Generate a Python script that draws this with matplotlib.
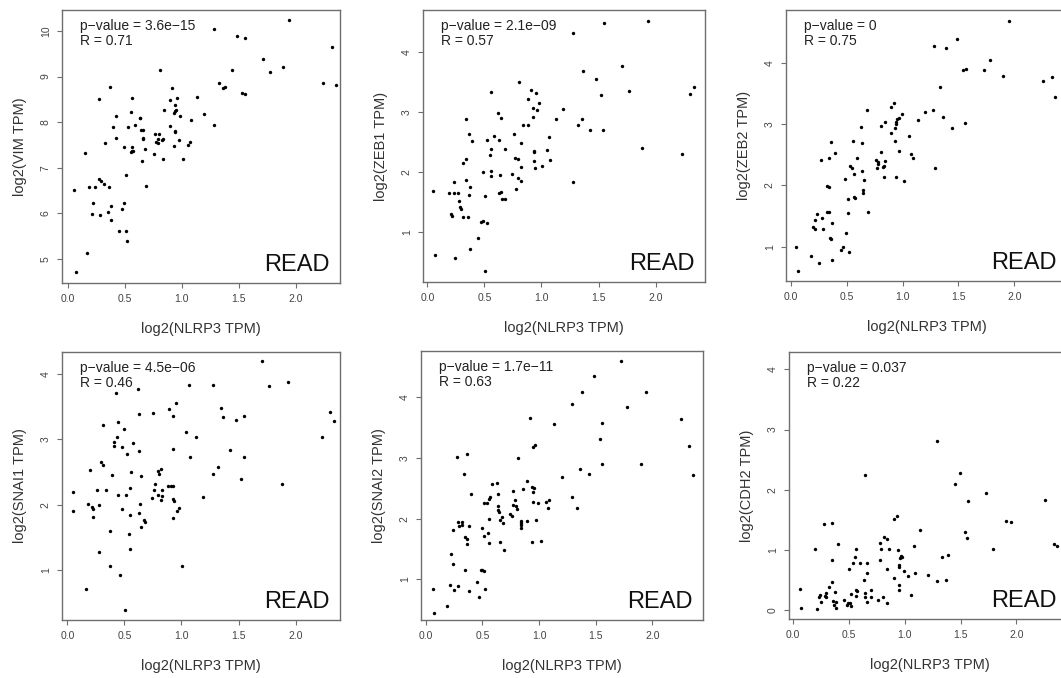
import matplotlib
matplotlib.use("Agg")
import matplotlib.pyplot as plt

plt.rcParams['font.family'] = ['Liberation Sans', 'DejaVu Sans']

W, H = 1061, 678
MINUS = "\u2212"

# ---- VIM ----
x_vim = [1.944, 1.281, 1.485, 1.553, 2.319, 1.716, 0.81, 1.436, 1.892, 1.775, 0.365, 1.327, 1.357, 1.380,
         2.243, 2.354, 0.272, 0.561, 0.915, 0.892, 0.959, 1.135, 1.532, 1.553, 0.939, 0.845, 0.942, 0.947,
         0.930, 0.550, 0.421, 0.982, 1.196, 0.629, 0.635, 1.082, 1.281, 0.585, 0.395, 0.526, 0.895, 0.637,
         0.655, 0.939, 0.942, 0.418, 0.763, 0.798, 0.787, 0.833, 0.827, 0.655, 0.655, 0.322, 0.769, 0.792,
         0.977, 1.070, 0.488, 0.558, 0.933, 1.053, 0.558, 0.573, 0.556, 0.675, 0.152, 0.751, 0.830, 0.652,
         1.009, 0.509, 0.272, 0.289, 0.316, 0.684, 0.181, 0.234, 0.360, 0.053, 0.219, 0.488, 0.374, 0.351,
         0.474, 0.211, 0.278, 0.374, 0.447, 0.509, 0.518, 0.164, 0.070]
y_vim = [10.24, 10.04, 9.88, 9.85, 9.64, 9.38, 9.15, 9.15, 9.20, 9.09, 8.77, 8.85, 8.74, 8.77,
         8.86, 8.82, 8.51, 8.54, 8.74, 8.48, 8.53, 8.55, 8.64, 8.61, 8.38, 8.26, 8.25, 8.27,
         8.21, 8.23, 8.13, 8.13, 8.18, 8.08, 8.10, 8.05, 7.94, 7.93, 7.90, 7.90, 7.92, 7.83,
         7.83, 7.80, 7.78, 7.66, 7.73, 7.73, 7.64, 7.63, 7.61, 7.66, 7.63, 7.55, 7.57, 7.55,
         7.61, 7.57, 7.46, 7.45, 7.48, 7.49, 7.37, 7.37, 7.34, 7.42, 7.32, 7.31, 7.18, 7.15,
         7.20, 6.83, 6.75, 6.71, 6.64, 6.59, 6.57, 6.57, 6.58, 6.50, 6.23, 6.23, 6.17, 6.03,
         6.09, 5.98, 5.96, 5.85, 5.61, 5.62, 5.39, 5.13, 4.72]

# ---- ZEB1 ----
x_zeb1 = [1.930, 1.544, 1.275, 1.702, 1.368, 1.474, 0.801, 2.339, 2.304, 0.912, 0.956, 0.556, 1.766, 1.520,
          0.977, 0.886, 0.930, 0.962, 1.190, 0.620, 0.649, 0.930, 0.336, 1.126, 1.351, 1.322, 0.839, 0.883,
          1.427, 1.535, 0.363, 0.760, 0.585, 1.067, 0.526, 0.392, 0.632, 0.825, 1.883, 0.556, 0.678, 1.047,
          0.933, 0.936, 0.547, 2.234, 0.766, 0.795, 0.339, 1.076, 0.936, 0.316, 1.006, 0.825, 0.942, 0.485,
          0.556, 0.743, 0.637, 0.561, 0.795, 0.336, 0.825, 1.275, 0.234, 0.374, 0.778, 0.053, 0.643, 0.626,
          0.187, 0.234, 0.269, 0.363, 0.503, 0.652, 0.684, 0.281, 0.287, 0.292, 0.211, 0.216, 0.316, 0.357,
          0.468, 0.491, 0.520, 0.444, 0.374, 0.064, 0.246, 0.509]
y_zeb1 = [4.53, 4.49, 4.32, 3.77, 3.69, 3.56, 3.51, 3.42, 3.30, 3.37, 3.32, 3.34, 3.35, 3.29,
          3.16, 3.22, 3.07, 3.03, 3.06, 2.99, 2.91, 2.92, 2.89, 2.89, 2.88, 2.79, 2.78, 2.78,
          2.70, 2.70, 2.64, 2.64, 2.60, 2.59, 2.53, 2.51, 2.53, 2.49, 2.40, 2.39, 2.38, 2.36,
          2.35, 2.33, 2.29, 2.30, 2.24, 2.22, 2.22, 2.20, 2.18, 2.15, 2.10, 2.08, 2.06, 1.99,
          2.02, 1.96, 1.95, 1.93, 1.89, 1.87, 1.84, 1.83, 1.83, 1.74, 1.71, 1.68, 1.66, 1.64,
          1.64, 1.64, 1.64, 1.62, 1.59, 1.54, 1.54, 1.52, 1.41, 1.37, 1.30, 1.26, 1.25, 1.25,
          1.16, 1.17, 1.15, 0.90, 0.71, 0.61, 0.56, 0.34]

# ---- ZEB2 ----
x_zeb2 = [1.949, 1.490, 1.285, 1.386, 1.785, 1.538, 1.565, 1.726, 1.902, 2.256, 2.334, 2.364, 1.335, 0.921,
          0.897, 1.270, 1.201, 0.993, 0.972, 0.951, 0.942, 0.945, 0.846, 0.811, 1.556, 1.362, 1.139, 0.626,
          0.683, 0.933, 1.443, 0.900, 1.058, 0.361, 0.561, 0.638, 0.936, 0.396, 0.972, 0.805, 0.340, 0.590,
          0.268, 1.076, 1.091, 0.763, 0.778, 0.840, 0.784, 0.823, 0.772, 0.838, 0.528, 0.545, 1.288, 0.638,
          0.563, 0.835, 0.945, 0.486, 0.656, 1.016, 0.647, 0.644, 0.325, 0.343, 0.563, 0.572, 0.513, 0.235,
          0.322, 0.343, 0.510, 0.692, 0.283, 0.221, 0.370, 0.203, 0.292, 0.218, 0.352, 0.361, 0.492, 0.471,
          0.450, 0.522, 0.051, 0.185, 0.373, 0.250, 0.066]
y_zeb2 = [4.675, 4.39, 4.27, 4.24, 4.05, 3.88, 3.90, 3.88, 3.78, 3.71, 3.76, 3.44, 3.61, 3.35,
          3.28, 3.23, 3.20, 3.16, 3.10, 3.08, 3.03, 3.00, 3.03, 2.97, 3.01, 3.11, 3.06, 2.95,
          3.23, 2.94, 2.93, 2.85, 2.81, 2.71, 2.73, 2.69, 2.73, 2.52, 2.56, 2.54, 2.45, 2.45,
          2.41, 2.51, 2.45, 2.41, 2.38, 2.40, 2.35, 2.30, 2.28, 2.32, 2.31, 2.29, 2.29, 2.23,
          2.18, 2.13, 2.13, 2.11, 2.09, 2.07, 1.92, 1.88, 1.99, 1.97, 1.81, 1.80, 1.77, 1.54,
          1.56, 1.56, 1.55, 1.57, 1.46, 1.43, 1.38, 1.32, 1.28, 1.28, 1.14, 1.12, 1.23, 0.99,
          0.94, 0.92, 0.995, 0.85, 0.79, 0.74, 0.61]

# ---- SNAI1 ----
x_snai1 = [1.708, 0.427, 0.623, 1.067, 1.272, 1.766, 1.930, 0.956, 0.889, 1.345, 0.749, 0.632, 0.927, 1.365,
           1.550, 2.304, 2.336, 1.474, 0.313, 0.442, 0.500, 1.041, 1.123, 0.439, 2.228, 0.579, 0.412, 0.409,
           0.482, 0.927, 1.424, 0.626, 0.520, 1.073, 1.547, 0.292, 0.313, 1.316, 0.202, 0.822, 0.792, 0.561,
           0.804, 0.392, 1.272, 0.643, 1.523, 1.877, 0.772, 0.880, 0.912, 0.924, 0.553, 0.263, 0.336, 0.827,
           0.763, 0.050, 0.833, 0.792, 0.442, 0.512, 1.187, 0.740, 0.924, 0.822, 0.936, 0.640, 0.178, 0.278,
           0.977, 0.482, 0.216, 0.225, 0.959, 0.050, 0.629, 0.553, 0.228, 0.930, 0.675, 0.684, 0.643, 0.371,
           0.544, 0.553, 0.275, 1.003, 0.371, 0.465, 0.161, 0.506]
y_snai1 = [4.20, 3.71, 3.77, 3.82, 3.82, 3.81, 3.88, 3.55, 3.46, 3.47, 3.40, 3.38, 3.35, 3.34,
           3.35, 3.41, 3.28, 3.29, 3.22, 3.27, 3.15, 3.11, 3.03, 3.03, 3.03, 2.95, 2.96, 2.89,
           2.88, 2.85, 2.83, 2.82, 2.77, 2.73, 2.73, 2.66, 2.60, 2.58, 2.53, 2.55, 2.51, 2.50,
           2.47, 2.46, 2.47, 2.44, 2.40, 2.32, 2.32, 2.29, 2.29, 2.29, 2.26, 2.22, 2.22, 2.22,
           2.22, 2.20, 2.13, 2.15, 2.15, 2.15, 2.12, 2.11, 2.09, 2.07, 2.06, 2.02, 2.01, 2.00,
           1.95, 1.94, 1.97, 1.93, 1.90, 1.90, 1.88, 1.85, 1.81, 1.80, 1.77, 1.74, 1.66, 1.60,
           1.56, 1.32, 1.28, 1.07, 1.07, 0.93, 0.72, 0.40]

# ---- SNAI2 ----
x_snai2 = [1.721, 1.487, 1.381, 1.947, 1.287, 1.780, 0.921, 2.252, 1.135, 1.557, 1.534, 0.965, 0.944, 2.326,
           0.364, 0.273, 0.812, 1.897, 1.551, 1.361, 0.340, 1.443, 2.358, 1.202, 0.894, 0.587, 0.633, 0.941,
           0.956, 0.856, 0.771, 0.944, 0.402, 0.639, 0.566, 0.557, 1.290, 1.091, 1.062, 0.947, 0.789, 0.988,
           0.537, 0.513, 0.801, 0.639, 0.768, 1.076, 1.331, 0.639, 0.803, 0.648, 0.745, 0.762, 0.677, 0.839,
           0.897, 0.842, 0.839, 0.839, 0.977, 0.660, 0.563, 0.686, 0.282, 0.320, 0.317, 0.296, 0.378, 0.238,
           0.493, 0.554, 0.513, 0.343, 0.367, 0.361, 0.563, 0.657, 0.941, 1.018, 0.692, 0.226, 0.238, 0.343,
           0.490, 0.501, 0.516, 0.452, 0.062, 0.217, 0.284, 0.249, 0.378, 0.525, 0.472, 0.191, 0.073]
y_snai2 = [4.60, 4.35, 4.08, 4.08, 3.89, 3.84, 3.65, 3.64, 3.55, 3.57, 3.31, 3.21, 3.18, 3.19,
           3.07, 3.02, 3.00, 2.90, 2.90, 2.82, 2.74, 2.73, 2.71, 2.68, 2.62, 2.57, 2.59, 2.52,
           2.51, 2.49, 2.45, 2.43, 2.40, 2.40, 2.35, 2.32, 2.35, 2.30, 2.27, 2.28, 2.30, 2.26,
           2.26, 2.26, 2.21, 2.20, 2.23, 2.17, 2.17, 2.14, 2.15, 2.11, 2.08, 2.05, 2.02, 1.96,
           1.96, 1.93, 1.89, 1.85, 1.98, 1.98, 1.99, 1.92, 1.94, 1.95, 1.90, 1.87, 1.88, 1.82,
           1.84, 1.77, 1.72, 1.69, 1.66, 1.58, 1.59, 1.62, 1.61, 1.63, 1.48, 1.41, 1.26, 1.16,
           1.16, 1.15, 1.14, 0.96, 0.84, 0.90, 0.89, 0.82, 0.81, 0.84, 0.71, 0.56, 0.45]

# ---- CDH2 ----
x_cdh2 = [0.642, 0.904, 0.928, 0.278, 0.346, 1.137, 0.812, 0.839, 0.191, 0.397, 0.564, 0.788, 0.860, 0.940,
          1.084, 0.776, 0.346, 0.552, 0.537, 0.594, 0.660, 0.776, 0.964, 0.973, 0.955, 0.499, 0.660, 0.839,
          0.946, 0.949, 0.991, 1.027, 1.096, 0.904, 0.630, 0.346, 0.325, 0.290, 0.236, 0.296, 0.057, 0.376,
          0.564, 0.573, 0.699, 0.949, 0.946, 0.516, 0.567, 0.642, 0.642, 0.696, 0.660, 0.761, 0.806, 0.842,
          1.060, 0.230, 0.251, 0.358, 0.379, 0.364, 0.379, 0.454, 0.487, 0.481, 0.507, 0.519, 0.072, 0.215,
          0.287, 1.293, 1.493, 1.448, 1.731, 1.564, 2.260, 1.904, 1.952, 1.540, 1.561, 1.791, 2.334, 2.367,
          1.388, 1.337, 1.209, 1.293, 1.367]
y_cdh2 = [2.25, 1.51, 1.56, 1.43, 1.44, 1.33, 1.21, 1.18, 1.01, 1.10, 1.02, 1.01, 1.01, 1.00,
          1.07, 1.12, 0.84, 0.88, 0.79, 0.78, 0.79, 0.84, 0.90, 0.89, 0.87, 0.68, 0.61, 0.68,
          0.75, 0.72, 0.65, 0.57, 0.61, 0.54, 0.50, 0.47, 0.38, 0.29, 0.25, 0.22, 0.35, 0.30,
          0.33, 0.32, 0.33, 0.42, 0.33, 0.26, 0.23, 0.29, 0.22, 0.22, 0.13, 0.16, 0.21, 0.11,
          0.25, 0.21, 0.13, 0.15, 0.14, 0.09, 0.04, 0.17, 0.11, 0.09, 0.12, 0.07, 0.04, 0.01,
          0.24, 2.81, 2.28, 2.10, 1.95, 1.82, 1.83, 1.48, 1.47, 1.30, 1.19, 1.01, 1.10, 1.06,
          0.91, 0.88, 0.59, 0.48, 0.50]

genes = ["VIM", "ZEB1", "ZEB2", "SNAI1", "SNAI2", "CDH2"]
pvals = ["3.6e" + MINUS + "15", "2.1e" + MINUS + "09", "0", "4.5e" + MINUS + "06", "1.7e" + MINUS + "11", "0.037"]
rvals = ["0.71", "0.57", "0.75", "0.46", "0.63", "0.22"]
xs = [x_vim, x_zeb1, x_zeb2, x_snai1, x_snai2, x_cdh2]
ys = [y_vim, y_zeb1, y_zeb2, y_snai1, y_snai2, y_cdh2]
yticks = [[5, 6, 7, 8, 9, 10], [1, 2, 3, 4], [1, 2, 3, 4], [1, 2, 3, 4], [1, 2, 3, 4], [0, 1, 2, 3, 4]]

# panel boxes in pixels (left, top, right, bottom) and limits
boxes = [(62, 10, 340, 283), (423, 10, 705, 282), (786, 10, 1068, 281),
         (62, 352, 340, 620), (421, 351, 703, 620), (789, 352, 1071, 619)]
xlims = [(-0.053, 2.389), (-0.038, 2.433), (-0.042, 2.48),
         (-0.047, 2.389), (-0.041, 2.446), (-0.038, 2.49)]
ylims = [(4.47, 10.46), (0.156, 4.71), (0.44, 4.86), (0.244, 4.33), (0.33, 4.76), (-0.149, 4.29)]

fig = plt.figure(figsize=(W / 100, H / 100), dpi=100)
grey = '#6e6e6e'

for i in range(6):
    l, t, r, b = boxes[i]
    wpx, hpx = r - l, b - t
    ax = fig.add_axes([l / W, 1 - b / H, wpx / W, hpx / H])
    ax.scatter(xs[i], ys[i], s=6, c='black', linewidths=0)
    ax.set_xlim(xlims[i])
    ax.set_ylim(ylims[i])
    ax.set_xticks([0.0, 0.5, 1.0, 1.5, 2.0])
    ax.set_xticklabels(["0.0", "0.5", "1.0", "1.5", "2.0"])
    ax.set_yticks(yticks[i])
    for s in ax.spines.values():
        s.set_color(grey)
        s.set_linewidth(1.0)
    ax.tick_params(colors=grey, labelcolor='#444444', labelsize=7.5, length=3.5, width=0.8, pad=4.5)
    ax.tick_params(axis='y', labelrotation=90)
    for lab in ax.get_yticklabels():
        lab.set_verticalalignment('center')
    ax.set_xlabel("log2(NLRP3 TPM)", fontsize=10.5, color='#333333')
    ax.set_ylabel("log2(" + genes[i] + " TPM)", fontsize=10.5, color='#333333')
    ax.xaxis.set_label_coords(0.5, -39 / hpx)
    ax.yaxis.set_label_coords(-35 / wpx, 0.5)
    ax.text(18 / wpx, 1 - 9 / hpx, "p" + MINUS + "value = " + pvals[i] + "\nR = " + rvals[i],
            transform=ax.transAxes, ha='left', va='top', fontsize=10, color='#222222',
            linespacing=1.05)
    ax.text(min(1 - 10 / wpx, (1057 - l) / wpx), 12 / hpx, "READ", transform=ax.transAxes,
            ha='right', va='baseline', fontsize=17, color='#111111')

fig.savefig("out.png", dpi=100)
